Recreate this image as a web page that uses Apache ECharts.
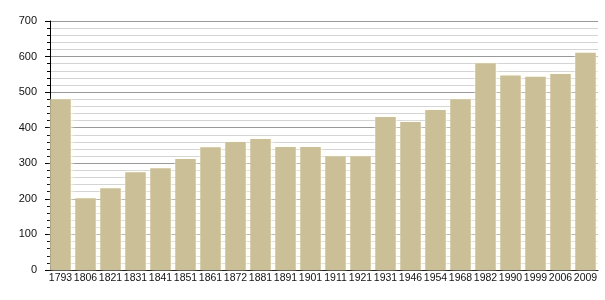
<!DOCTYPE html>
<html><head><meta charset="utf-8">
<script src="https://cdn.jsdelivr.net/npm/echarts@6/dist/echarts.min.js"></script>
<style>html,body{margin:0;padding:0;background:#fff}#c{width:605px;height:300px}</style>
</head><body><div id="c"></div>
<script>
const categories = ['1793','1806','1821','1831','1841','1851','1861','1872','1881','1891','1901','1911','1921','1931','1946','1954','1968','1982','1990','1999','2006','2009'];
const population = [480,202,230,275,286,312,345,360,368,346,346,320,320,430,416,450,480,581,547,543,551,611];
const yTicks = [0,100,200,300,400,500,600,700];

const chart = echarts.init(document.getElementById('c'), null, {renderer:'canvas'});
chart.setOption({
  animation:false,
  grid:{left:48,right:7,top:21,bottom:30,containLabel:false},
  xAxis:{type:'category',data:categories,
    axisLine:{lineStyle:{color:'#000',width:1}},
    axisTick:{show:false},
    axisLabel:{color:'#111',fontSize:10.5,fontFamily:'Liberation Sans',margin:3,interval:0}},
  yAxis:{type:'value',min:0,max:700,interval:100,offset:-2,
    axisLine:{show:true,lineStyle:{color:'#000',width:1}},
    axisTick:{show:true,length:5,lineStyle:{color:'#000'}},
    minorTick:{show:true,splitNumber:5,length:3,lineStyle:{color:'#000'}},
    splitLine:{lineStyle:{color:'#999',width:1}},
    minorSplitLine:{show:true,lineStyle:{color:'#d4d4d4',width:1}},
    axisLabel:{color:'#111',fontSize:11,fontFamily:'Liberation Sans',margin:13,
      formatter:v=>yTicks.includes(v)?String(v):''}},
  series:[{type:'bar',data:population,barCategoryGap:'18%',
    itemStyle:{color:'#cbbf98',shadowColor:'rgba(255,253,240,0.9)',shadowBlur:4,shadowOffsetX:1}}]
});
</script>
</body></html>
